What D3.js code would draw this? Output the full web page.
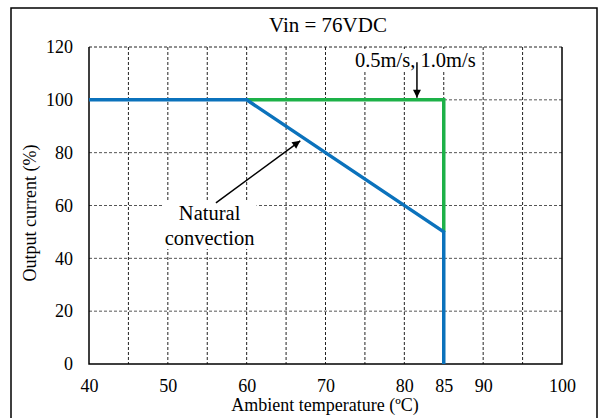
<!DOCTYPE html>
<meta charset="utf-8">
<style>
body { margin: 0; background: #fff; }
text { font-family: 'Liberation Serif', 'Times New Roman', serif; fill: #000; }
</style>
<body>
<div class="viz"></div>
<script src="https://d3js.org/d3.v7.min.js"></script>
<script>
// values
const xTicks = [40, 50, 60, 70, 80, 85, 90, 100];
const yTicks = [0, 20, 40, 60, 80, 100, 120];
const xGrid = [45, 50, 55, 60, 65, 70, 75, 80, 85, 90, 95];
const yGrid = [20, 40, 60, 80, 100, 120];
const naturalTemp = [40, 60, 85, 85];
const naturalCurrent = [100, 100, 50, 0];
const airTemp = [60, 85, 85];
const airCurrent = [100, 100, 50];

const W = 606, H = 418;
const margin = {top: 47, right: 44, bottom: 54, left: 89},
  width = 562 - margin.left,
  height = 364 - margin.top;

const svg = d3.select(".viz").append("svg")
  .attr("width", W).attr("height", H);

// outer frame (bottom edge falls outside the picture)
svg.append("rect")
  .attr("x", 11).attr("y", 8)
  .attr("width", 586).attr("height", 430)
  .attr("fill", "none").attr("stroke", "#000").attr("stroke-width", 1.5);

svg.append("text")
  .attr("x", 328).attr("y", 32)
  .attr("text-anchor", "middle")
  .style("font-size", "21px")
  .text("Vin = 76VDC");

const g = svg.append("g")
  .attr("transform", "translate(" + margin.left + "," + margin.top + ")");

const x = d3.scaleLinear().domain([40, 100]).range([0, width]);
const y = d3.scaleLinear().domain([0, 120]).range([height, 0]);

// grid
g.selectAll(".vgrid").data(xGrid).enter().append("line")
  .attr("x1", d => x(d)).attr("x2", d => x(d))
  .attr("y1", 0).attr("y2", height)
  .attr("stroke", "#222").attr("stroke-width", 1)
  .attr("stroke-dasharray", "3,2");

g.selectAll(".hgrid").data(yGrid).enter().append("line")
  .attr("x1", 0).attr("x2", width)
  .attr("y1", d => y(d)).attr("y2", d => y(d))
  .attr("stroke", d => d == 120 ? "#222" : "#555").attr("stroke-width", 1)
  .attr("stroke-dasharray", "3,2");

// solid frame: left, bottom, right
g.append("path")
  .attr("d", "M0,0V" + height + "H" + width + "V0")
  .attr("fill", "none").attr("stroke", "#000").attr("stroke-width", 1.5);

// axes
const xAxis = g.append("g")
  .attr("transform", "translate(0," + height + ")")
  .call(d3.axisBottom(x).tickValues(xTicks).tickSize(0).tickPadding(15).tickFormat(d3.format("d")));
const yAxis = g.append("g")
  .call(d3.axisLeft(y).tickValues(yTicks).tickSize(0).tickPadding(16).tickFormat(d3.format("d")));
[xAxis, yAxis].forEach(a => {
  a.attr("font-family", null);
  a.select(".domain").remove();
  a.selectAll("text")
    .style("font-family", "'Liberation Serif', serif")
    .style("font-size", "18px")
    .attr("fill", "#000");
});

svg.append("text")
  .attr("x", 325).attr("y", 411)
  .attr("text-anchor", "middle")
  .style("font-size", "18px")
  .text("Ambient temperature (ºC)");

svg.append("text")
  .attr("transform", "translate(36,213) rotate(-90)")
  .attr("text-anchor", "middle")
  .style("font-size", "18px")
  .text("Output current (%)");

// curves
const line = d3.line().x(d => x(d[0])).y(d => y(d[1]));

g.append("path")
  .datum(d3.zip(airTemp, airCurrent))
  .attr("d", line)
  .attr("fill", "none").attr("stroke", "#1DB148").attr("stroke-width", 3.5)
  .attr("stroke-linejoin", "miter");

g.append("path")
  .datum(d3.zip(naturalTemp, naturalCurrent))
  .attr("d", line)
  .attr("fill", "none").attr("stroke", "#0B72BC").attr("stroke-width", 3.5)
  .attr("stroke-linejoin", "miter");

// annotations
const defs = svg.append("defs");
defs.append("marker")
  .attr("id", "head")
  .attr("viewBox", "0 0 10 10")
  .attr("refX", 10).attr("refY", 5)
  .attr("markerWidth", 10).attr("markerHeight", 8)
  .attr("markerUnits", "userSpaceOnUse")
  .attr("orient", "auto")
  .append("path").attr("d", "M0,0L10,5L0,10Z").attr("fill", "#000");

function label(lines, cx, baseline, lh) {
  const t = g.append("g");
  const txt = t.append("text").attr("text-anchor", "middle").style("font-size", "20.5px");
  lines.forEach((s, i) => {
    txt.append("tspan").attr("x", cx).attr("y", baseline + i * lh).text(s);
  });
  const b = txt.node().getBBox();
  t.insert("rect", "text")
    .attr("x", b.x - 2).attr("y", b.y)
    .attr("width", b.width + 4).attr("height", b.height)
    .attr("fill", "#fff");
}

label(["0.5m/s, 1.0m/s"], x(81.4) , 67 - margin.top, 0);
g.append("line")
  .attr("x1", x(81.6)).attr("x2", x(81.6))
  .attr("y1", y(114.2)).attr("y2", y(100.8))
  .attr("stroke", "#000").attr("stroke-width", 1.5)
  .attr("marker-end", "url(#head)");

label(["Natural", "convection"], x(55.3), 220 - margin.top, 25);
g.append("line")
  .attr("x1", x(56.1)).attr("x2", x(66.8))
  .attr("y1", y(61)).attr("y2", y(84.5))
  .attr("stroke", "#000").attr("stroke-width", 1.5)
  .attr("marker-end", "url(#head)");
</script>
</body>
